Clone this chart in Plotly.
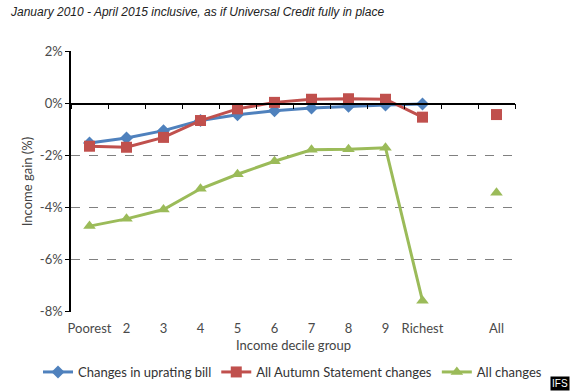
import plotly.graph_objects as go

categories = ["Poorest", "2", "3", "4", "5", "6", "7", "8", "9", "Richest", " ", "All"]
uprating_bill = [-1.52, -1.32, -1.04, -0.65, -0.43, -0.27, -0.17, -0.10, -0.05, -0.01, None, None]
autumn_statement = [-1.64, -1.68, -1.30, -0.65, -0.20, 0.05, 0.17, 0.19, 0.17, -0.52, None, -0.42]
all_changes = [-4.72, -4.44, -4.08, -3.28, -2.72, -2.22, -1.78, -1.76, -1.70, -7.60, None, -3.43]
y_ticks = [2, 0, -2, -4, -6, -8]
y_tick_labels = ["2%", "0%", "-2%", "-4%", "-6%", "-8%"]

idx = list(range(len(categories)))
BLUE = "#4F81BD"
RED = "#C0504D"
GREEN = "#9BBB59"

fig = go.Figure()
fig.add_trace(go.Scatter(x=idx, y=uprating_bill, name="Changes in uprating bill", mode="lines+markers",
                         line=dict(color=BLUE, width=3), marker=dict(symbol="diamond", size=10, color=BLUE),
                         connectgaps=False))
fig.add_trace(go.Scatter(x=idx, y=autumn_statement, name="All Autumn Statement changes", mode="lines+markers",
                         line=dict(color=RED, width=3), marker=dict(symbol="square", size=11, color=RED),
                         connectgaps=False))
fig.add_trace(go.Scatter(x=idx, y=all_changes, name="All changes", mode="lines+markers",
                         line=dict(color=GREEN, width=3), marker=dict(symbol="triangle-up", size=11, color=GREEN),
                         connectgaps=False))
# invisible trace so the zero-crossing category axis is drawn
fig.add_trace(go.Scatter(x=idx, y=autumn_statement, xaxis="x2", mode="markers", opacity=0,
                         showlegend=False, hoverinfo="skip"))

FONT = "Lato, Open Sans, sans-serif"
tick_font = dict(family=FONT, size=13, color="#4a4a4a")

L, R, T, B = 71, 55, 51, 79
W, H = 570, 391
PW, PH = W - L - R, H - T - B
pad = 0.03
y_lo, y_hi = min(y_ticks) - pad, max(y_ticks) + pad

fig.update_layout(
    width=W, height=H,
    margin=dict(l=L, r=R, t=T, b=B, autoexpand=False),
    paper_bgcolor="white", plot_bgcolor="white",
    showlegend=True,
    legend=dict(orientation="h", x=(38 - L) / PW, xanchor="left", y=-(357 - (T + PH)) / PH, yanchor="top",
                font=dict(family=FONT, size=13, color="#333333"),
                itemwidth=30, tracegroupgap=0, bgcolor="rgba(0,0,0,0)"),
    xaxis=dict(range=[-0.5, len(categories) - 0.5], tickmode="array", tickvals=idx, ticktext=categories,
               showgrid=False, showline=False, zeroline=False, ticks="", tickfont=tick_font,
               ticklabelstandoff=7, fixedrange=True),
    xaxis2=dict(range=[-0.5, len(categories) - 0.5], overlaying="x", anchor="free",
                position=(0 - y_lo) / (y_hi - y_lo), side="bottom",
                tickmode="array", tickvals=[i - 0.5 for i in range(len(categories) + 1)],
                showticklabels=False, ticks="outside", ticklen=5, tickcolor="black", tickwidth=1,
                showline=True, linecolor="black", linewidth=1.5, showgrid=False, zeroline=False),
    yaxis=dict(range=[y_lo, y_hi], tickmode="array", tickvals=y_ticks, ticktext=y_tick_labels,
               showgrid=True, gridcolor="#808080", griddash="dash", gridwidth=1,
               showline=True, linecolor="black", linewidth=1.5, ticks="outside", ticklen=4, tickcolor="black",
               zeroline=False, tickfont=tick_font,
               title=dict(text="Income gain (%)", font=dict(family=FONT, size=13, color="#444444"), standoff=4)),
    annotations=[
        dict(text="January 2010 - April 2015 inclusive, as if Universal Credit fully in place",
             xref="paper", yref="paper", x=(8 - L) / PW, xanchor="left",
             y=1 + (T - 12) / PH, yanchor="middle", showarrow=False,
             font=dict(family="Liberation Sans, Arial, sans-serif", size=12, color="#222222", style="italic")),
        dict(text="Income decile group", xref="paper", yref="paper", x=0.5, xanchor="center",
             y=-(345 - (T + PH)) / PH, yanchor="middle", showarrow=False,
             font=dict(family=FONT, size=13, color="#444444")),
        dict(text="IFS", xref="paper", yref="paper", x=(W - L) / PW, xanchor="right",
             y=-(H - (T + PH)) / PH, yanchor="bottom", showarrow=False, bgcolor="black",
             borderpad=1, font=dict(family="Liberation Sans, Arial, sans-serif", size=10, color="white")),
    ],
)

fig.write_html("out.html", config={"displayModeBar": False},
               post_script="document.body.style.margin='0';document.body.style.overflow='hidden';")
